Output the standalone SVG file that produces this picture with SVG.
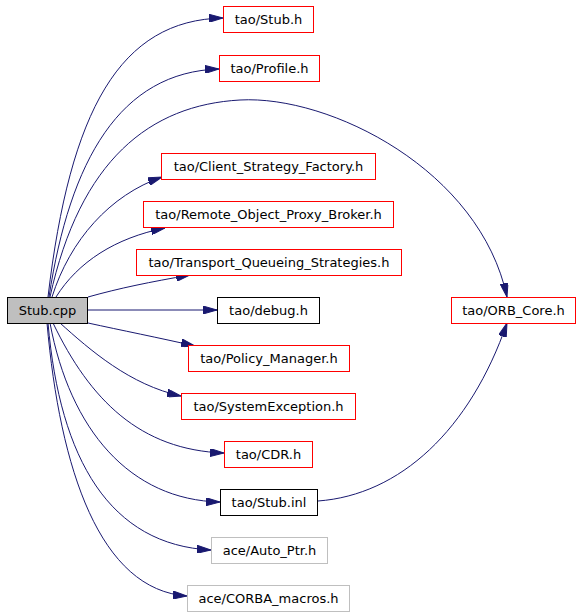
<svg xmlns="http://www.w3.org/2000/svg" width="581" height="616" viewBox="0 0 581 616">
<style>
rect{stroke-width:1}
.r{fill:#fff;stroke:#ff0000}
.k{fill:#fff;stroke:#000}
.g{fill:#fff;stroke:#bfbfbf}
.root{fill:#bfbfbf;stroke:#000}
text{font-family:"DejaVu Sans","Liberation Sans",sans-serif;font-size:13px;fill:#000;text-anchor:middle}
.e path{fill:none;stroke:#191970;stroke-width:1;marker-end:url(#a)}
</style>
<defs>
<marker id="a" markerUnits="userSpaceOnUse" markerWidth="14" markerHeight="8" viewBox="0 0 14 8" refX="14" refY="4" orient="auto">
<path d="M0,0 L14,4 L0,8 z" fill="#191970" stroke="#191970" stroke-width="1"/>
</marker>
</defs>
<g class="e" id="edges">
<path d="M48,297 C70,110 120,20 223,18"/>
<path d="M49,297 C70,160 120,72 219,69"/>
<path d="M50,297 C80,160 150,105 240,100 C330,95 480,170 507,297"/>
<path d="M52,297 C70,240 110,195 162,177"/>
<path d="M56,297 C78,262 115,238 165,228"/>
<path d="M88,297 C120,288 150,282 190,275"/>
<path d="M88,310 L217,310"/>
<path d="M88,323 C120,330 160,338 195,346"/>
<path d="M60,323 C90,350 130,385 181,396"/>
<path d="M53,323 C90,400 140,450 224,453"/>
<path d="M50,323 C70,430 130,500 220,502"/>
<path d="M48,323 C60,460 110,545 211,550"/>
<path d="M47,323 C60,470 100,590 187,596"/>
<path d="M318,501 C400,495 470,430 507,323"/>
</g>
<g id="n0"><rect class="root" x="7.5" y="297.5" width="80" height="26"/><text x="47.5" y="315">Stub.cpp</text></g>
<g id="n1"><rect class="r" x="223.5" y="6.5" width="90" height="26"/><text x="268.5" y="24">tao/Stub.h</text></g>
<g id="n2"><rect class="r" x="219.5" y="55.5" width="100" height="26"/><text x="269.5" y="73">tao/Profile.h</text></g>
<g id="n3"><rect class="r" x="161.5" y="153.5" width="214" height="26"/><text x="268.5" y="171">tao/Client_Strategy_Factory.h</text></g>
<g id="n4"><rect class="r" x="143.5" y="201.5" width="250" height="26"/><text x="268.5" y="219">tao/Remote_Object_Proxy_Broker.h</text></g>
<g id="n5"><rect class="r" x="136.5" y="249.5" width="265" height="26"/><text x="269" y="267">tao/Transport_Queueing_Strategies.h</text></g>
<g id="n6"><rect class="k" x="217.5" y="297.5" width="102" height="26"/><text x="268.5" y="315">tao/debug.h</text></g>
<g id="n7"><rect class="r" x="188.5" y="345.5" width="161" height="26"/><text x="269" y="363">tao/Policy_Manager.h</text></g>
<g id="n8"><rect class="r" x="181.5" y="393.5" width="174" height="26"/><text x="268.5" y="411">tao/SystemException.h</text></g>
<g id="n9"><rect class="r" x="224.5" y="441.5" width="88" height="26"/><text x="268.5" y="459">tao/CDR.h</text></g>
<g id="n10"><rect class="k" x="220.5" y="489.5" width="97" height="26"/><text x="269" y="507">tao/Stub.inl</text></g>
<g id="n11"><rect class="g" x="211.5" y="537.5" width="116" height="26"/><text x="269.5" y="555">ace/Auto_Ptr.h</text></g>
<g id="n12"><rect class="g" x="187.5" y="585.5" width="162" height="26"/><text x="268.5" y="603">ace/CORBA_macros.h</text></g>
<g id="n13"><rect class="r" x="451.5" y="297.5" width="124" height="26"/><text x="513.5" y="315">tao/ORB_Core.h</text></g>
</svg>
